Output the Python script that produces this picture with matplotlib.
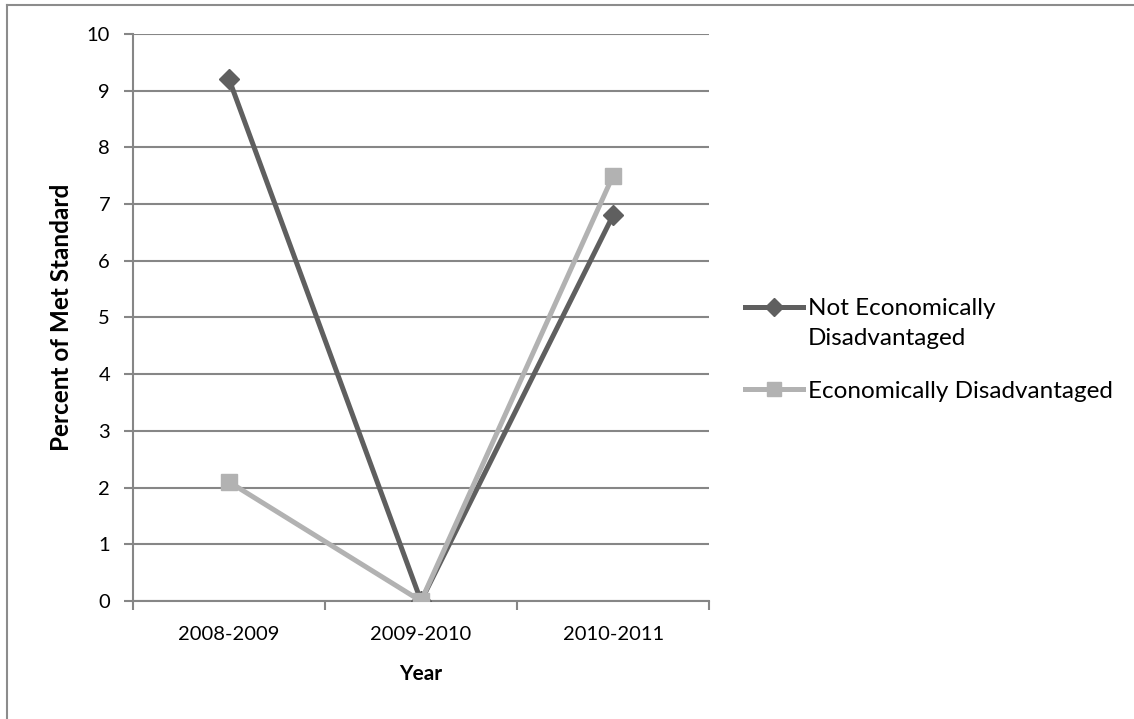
import matplotlib.pyplot as plt
from matplotlib.lines import Line2D

# 数据
years = ['2008-2009', '2009-2010', '2010-2011']
not_econ = [9.2, 0, 6.8]
econ = [2.1, 0, 7.5]

plt.rcParams['font.family'] = ['Lato', 'DejaVu Sans']

fig = plt.figure(figsize=(11.34, 7.19), dpi=100)
ax = fig.add_axes([0.1173, 0.164, 0.508, 0.789])

grid_c = '#868686'
dark = '#5f5f5f'
light = '#b2b2b2'
x = range(len(years))

ax.plot(x, not_econ, color=dark, lw=3.6, marker='D', markersize=10, zorder=3)
ax.plot(x, econ, color=light, lw=3.6, marker='s', markersize=12, zorder=3)

ax.set_xlim(-0.5, 2.5)
ax.set_ylim(0, 10)
ax.set_yticks(range(0, 11))
ax.set_xticks(list(x))
ax.set_xticklabels(years)
ax.set_xticks([-0.5, 0.5, 1.5, 2.5], minor=True)
ax.tick_params(axis='x', which='major', length=0, labelsize=14.5, pad=18)
ax.tick_params(axis='x', which='minor', length=6.5, color=grid_c, width=1.5)
ax.tick_params(axis='y', length=6.5, color=grid_c, width=1.5, labelsize=14.5, pad=10)
ax.yaxis.grid(True, color=grid_c, lw=1.5)
ax.set_axisbelow(True)

for s in ['top', 'right']:
    ax.spines[s].set_visible(False)
for s in ['left', 'bottom']:
    ax.spines[s].set_color(grid_c)
    ax.spines[s].set_linewidth(1.5)
ax.spines['bottom'].set_zorder(2.5)

ax.set_xlabel('Year', fontsize=15, fontweight='bold', labelpad=15)
ax.set_ylabel('Percent of Met Standard', fontsize=17.5, fontweight='bold', labelpad=10)

# 图例（第一项文字两行，标记对齐第一行）
h1 = Line2D([], [], color=dark, lw=3.6, marker='D', markersize=9)
h2 = Line2D([], [], color=light, lw=3.6, marker='s', markersize=10)
blank = Line2D([], [], color='none')
kw = dict(frameon=False, fontsize=17.5, handlelength=2.4, handletextpad=0.2,
          borderpad=0, borderaxespad=0, loc='center left',
          bbox_transform=fig.transFigure)
leg1 = fig.legend([h1, blank], ['Not Economically', 'Disadvantaged'],
                  bbox_to_anchor=(0.657, 0.550), labelspacing=0.34, **kw)
leg2 = fig.legend([h2], ['Economically Disadvantaged'],
                  bbox_to_anchor=(0.657, 0.456), **kw)

# 外框
fig.add_artist(Line2D([0.006, 1.0], [0.993, 0.993], color='#8c8c8c', lw=1.5))
fig.add_artist(Line2D([0.006, 0.006], [0.0, 0.993], color='#8c8c8c', lw=1.5))

fig.savefig('out.png', dpi=100)
